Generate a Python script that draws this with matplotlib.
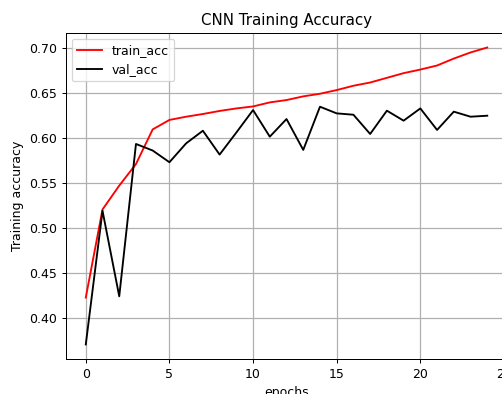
"""plot.py

training curves for the small CNN, 25 epochs
"""

import matplotlib
matplotlib.use('Agg')
import matplotlib.pyplot as plt

epochs = list(range(25))

train_acc = [0.4226, 0.5205, 0.547, 0.571, 0.6095, 0.620, 0.6236, 0.6266, 0.630,
             0.6328, 0.635, 0.6395, 0.6421, 0.6462, 0.6491, 0.6532, 0.658,
             0.6616, 0.6668, 0.672, 0.676, 0.6805, 0.6882, 0.695, 0.7005]

val_acc = [0.3705, 0.519, 0.424, 0.5933, 0.586, 0.573, 0.594, 0.608, 0.5815,
           0.606, 0.631, 0.6014, 0.621, 0.5867, 0.6347, 0.6273, 0.6258,
           0.6044, 0.6303, 0.6192, 0.6328, 0.6089, 0.6292, 0.6236, 0.6247]

DPI = 90


def plot_history():
    fig = plt.figure(figsize=(502 / DPI, 394 / DPI), dpi=DPI)
    # axes run just past the right edge, same as the saved crop of the notebook figure
    ax = fig.add_axes([0.1309, 0.0881, 0.8797, 0.829])

    ax.plot(epochs, train_acc, color='red', linewidth=1.5, label='train_acc')
    ax.plot(epochs, val_acc, color='black', linewidth=1.5, label='val_acc')

    ax.set_title('CNN Training Accuracy', fontsize=12)
    ax.set_xlabel('epochs')
    ax.set_ylabel('Training accuracy')
    ax.set_xticks([0, 5, 10, 15, 20, 25])
    ax.set_xlim(-1.2, 25.2)
    ax.grid(True, color='#b0b0b0', linewidth=1.0)
    ax.legend(loc='upper left')

    fig.savefig('out.png', dpi=DPI)


if __name__ == '__main__':
    plot_history()
